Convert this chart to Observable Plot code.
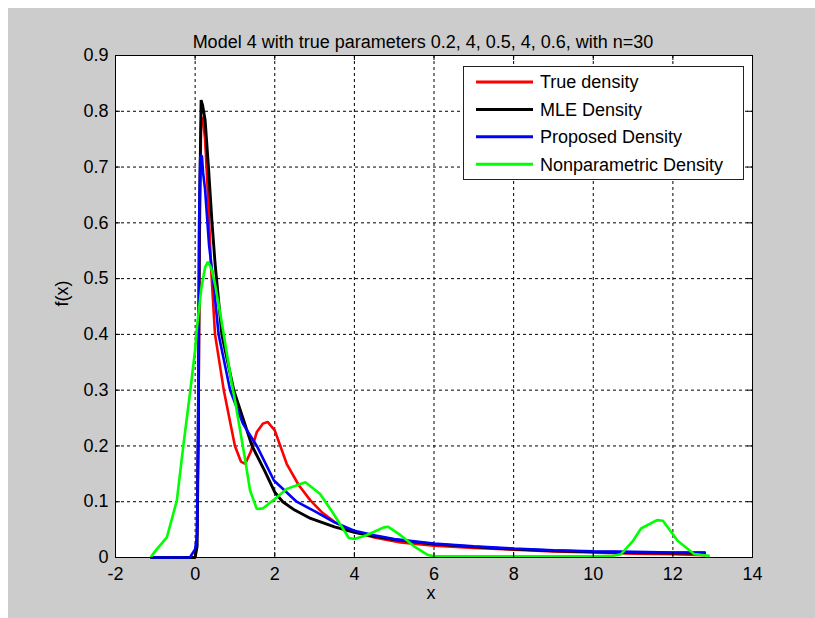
<!DOCTYPE html>
<html>
<head>
<meta charset="utf-8">
<script src="https://cdn.jsdelivr.net/npm/d3@7"></script>
<script src="https://cdn.jsdelivr.net/npm/@observablehq/plot@0.6"></script>
<style>
  html, body { margin: 0; padding: 0; background: #ffffff; }
  #wrap { position: relative; width: 815px; height: 618px; overflow: hidden; }
  #bg { position: absolute; left: 8px; top: 8px; width: 807px; height: 610px; background: #cccccc; }
  #chart { position: absolute; left: 0; top: 0; }
</style>
</head>
<body>
<div id="wrap"><div id="bg"></div><div id="chart"></div></div>
<script>
const titleText = "Model 4 with true parameters 0.2, 4, 0.5, 4, 0.6, with n=30";
const xLabel = "x";
const yLabel = "f(x)";
const xTicks = [-2, 0, 2, 4, 6, 8, 10, 12, 14];
const yTicks = [0, 0.1, 0.2, 0.3, 0.4, 0.5, 0.6, 0.7, 0.8, 0.9];
const seriesNames = ["True density", "MLE Density", "Proposed Density", "Nonparametric Density"];
const seriesColors = ["#ff0000", "#000000", "#0000ff", "#00ff00"];

const trueX = [0, 0.04, 0.08, 0.11, 0.15, 0.19, 0.25, 0.33, 0.4, 0.5, 0.72, 1.0, 1.15, 1.26, 1.4, 1.55, 1.7, 1.82, 2.0, 2.3, 2.6, 2.9, 3.2, 3.5, 4, 4.5, 5.16, 6, 7, 8, 9, 10, 11, 12, 12.8];
const trueY = [0, 0.025, 0.2, 0.55, 0.78, 0.79, 0.75, 0.64, 0.52, 0.4, 0.3, 0.2, 0.172, 0.168, 0.19, 0.225, 0.24, 0.243, 0.228, 0.168, 0.13, 0.102, 0.08, 0.064, 0.046, 0.036, 0.027, 0.021, 0.017, 0.014, 0.011, 0.009, 0.007, 0.006, 0.004];

const mleX = [-1.1, 0, 0.05, 0.08, 0.11, 0.15, 0.19, 0.25, 0.335, 0.42, 0.5, 0.67, 0.97, 1.43, 1.75, 2.0, 2.2, 2.5, 2.9, 3.5, 4, 4.5, 5, 6, 7, 8, 9, 10, 11, 12, 12.8];
const mleY = [0, 0, 0.02, 0.23, 0.62, 0.82, 0.81, 0.785, 0.7, 0.605, 0.528, 0.4, 0.3, 0.2, 0.155, 0.117, 0.1, 0.085, 0.07, 0.055, 0.045, 0.038, 0.032, 0.024, 0.019, 0.015, 0.012, 0.01, 0.009, 0.008, 0.008];

const propX = [-1.1, -0.13, 0, 0.05, 0.08, 0.1, 0.13, 0.17, 0.2, 0.25, 0.3, 0.35, 0.45, 0.59, 0.88, 1.2, 1.55, 1.98, 2.55, 3.0, 3.5, 4, 4.5, 5, 6, 7, 8, 9, 10, 11, 12, 12.8];
const propY = [0, 0, 0.015, 0.04, 0.3, 0.6, 0.72, 0.72, 0.69, 0.66, 0.61, 0.56, 0.5, 0.4, 0.3, 0.24, 0.2, 0.138, 0.1, 0.083, 0.063, 0.048, 0.04, 0.033, 0.025, 0.02, 0.016, 0.013, 0.011, 0.01, 0.009, 0.009];

const npX = [-1.1, -0.96, -0.71, -0.6, -0.46, -0.29, -0.13, 0, 0.04, 0.15, 0.25, 0.32, 0.4, 0.5, 0.63, 0.92, 1.0, 1.26, 1.38, 1.55, 1.7, 2.0, 2.3, 2.77, 3.14, 3.48, 3.86, 4.0, 4.3, 4.74, 4.85, 5.16, 5.5, 5.83, 6, 8, 10, 10.5, 10.7, 11.0, 11.2, 11.6, 11.75, 12.12, 12.54, 12.9];
const npY = [0.002, 0.015, 0.036, 0.065, 0.102, 0.204, 0.294, 0.372, 0.408, 0.48, 0.52, 0.53, 0.52, 0.49, 0.438, 0.312, 0.282, 0.174, 0.12, 0.087, 0.088, 0.105, 0.123, 0.135, 0.114, 0.078, 0.035, 0.033, 0.04, 0.054, 0.055, 0.04, 0.02, 0.005, 0.002, 0.002, 0.002, 0.003, 0.006, 0.03, 0.052, 0.067, 0.066, 0.03, 0.006, 0.003];

const toPts = (xs, ys) => xs.map((x, i) => ({x, y: ys[i]}));
const series = [toPts(trueX, trueY), toPts(mleX, mleY), toPts(propX, propY), toPts(npX, npY)];

const W = 815, H = 618;
const mL = 115, mR = 63, mT = 55, mB = 61;
const frameH = H - mT - mB, frameW = W - mL - mR;
const font = "Liberation Sans, Arial, Helvetica, sans-serif";
const fs = 18;
const dash = "3,3";

const plot = Plot.plot({
  width: W, height: H,
  marginLeft: mL, marginRight: mR, marginTop: mT, marginBottom: mB,
  style: {background: "transparent", fontFamily: font, fontSize: fs + "px", color: "#000"},
  x: {domain: [-2, 14]},
  y: {domain: [0, 0.9]},
  marks: [
    Plot.frame({fill: "white", stroke: null}),
    Plot.ruleX(xTicks.slice(1, -1), {stroke: "#000", strokeWidth: 1, strokeDasharray: dash}),
    Plot.ruleY(yTicks.slice(1, -1), {stroke: "#000", strokeWidth: 1, strokeDasharray: dash}),
    ...series.map((s, i) => Plot.line(s, {x: "x", y: "y", stroke: seriesColors[i], strokeWidth: i === 1 ? 2.9 : 2.6, strokeLinejoin: "miter"})),
    Plot.tickX(xTicks, {x: d => d, stroke: "#000", insetTop: frameH - 5}),
    Plot.tickX(xTicks, {x: d => d, stroke: "#000", insetBottom: frameH - 5}),
    Plot.tickY(yTicks, {y: d => d, stroke: "#000", insetRight: frameW - 5}),
    Plot.tickY(yTicks, {y: d => d, stroke: "#000", insetLeft: frameW - 5}),
    Plot.frame({stroke: "#000", strokeWidth: 1}),
    Plot.axisX({ticks: xTicks, tickSize: 0, tickPadding: 10, label: null, fontSize: fs, tickFormat: d => String(d)}),
    Plot.axisY({ticks: yTicks, tickSize: 0, tickPadding: 7, label: null, fontSize: fs, tickFormat: d => String(d)}),
    Plot.text([titleText], {frameAnchor: "top", dy: -20, dx: -11, text: d => d, fontSize: fs, fill: "#000"}),
    Plot.text([xLabel], {frameAnchor: "bottom", dy: 41, dx: -3, text: d => d, fontSize: fs, fill: "#000"}),
    Plot.text([yLabel], {frameAnchor: "left", dx: -53, rotate: -90, text: d => d, fontSize: fs, fill: "#000"})
  ]
});
document.getElementById("chart").appendChild(plot);

// Legend inside the axes (upper right)
const svg = d3.select(plot);
const lg = svg.append("g").attr("font-family", font).attr("font-size", fs).attr("text-anchor", "start");
const bx = 463.5, by = 66.5, bw = 280, bh = 113;
lg.append("rect").attr("x", bx).attr("y", by).attr("width", bw).attr("height", bh)
  .attr("fill", "white").attr("stroke", "#222").attr("stroke-width", 1);
seriesNames.forEach((name, i) => {
  const cy = 82 + i * 27.4;
  lg.append("line").attr("x1", 476).attr("x2", 533).attr("y1", cy).attr("y2", cy)
    .attr("stroke", seriesColors[i]).attr("stroke-width", 3);
  lg.append("text").attr("x", 540).attr("y", cy).attr("dy", "0.35em").attr("fill", "#000")
    .attr("text-anchor", "start").text(name);
});
</script>
</body>
</html>
